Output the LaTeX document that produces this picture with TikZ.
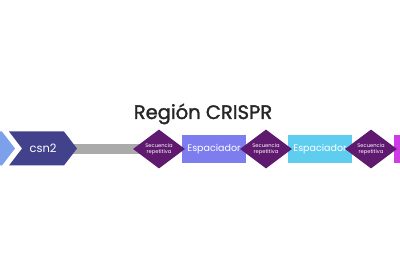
\documentclass[tikz,border=0pt]{standalone}
\usepackage{fontspec}
\setmainfont{Poppins}
\newfontfamily\titlefont{Poppins}[FakeBold=1.6]
\usepackage{xcolor}
\usetikzlibrary{shapes.geometric,shapes.symbols,backgrounds}
\definecolor{chevlight}{RGB}{125,160,235}
\definecolor{chevdark}{RGB}{66,66,140}
\definecolor{linkgray}{RGB}{170,170,170}
\definecolor{reppurple}{RGB}{95,25,110}
\definecolor{spacerA}{RGB}{125,125,240}
\definecolor{spacerB}{RGB}{95,205,240}
\definecolor{spacerC}{RGB}{205,60,230}
\tikzset{
  gene/.style={signal,signal to=east,signal pointer angle=105,fill=#1,draw=none,
    minimum height=34pt,inner sep=0pt,text=white,font=\fontsize{11.5}{11.5}\selectfont},
  spacer/.style={rectangle,fill=#1,draw=none,minimum width=64pt,minimum height=28pt,
    inner sep=0pt,text=white,font=\fontsize{9.5}{9.5}\selectfont},
  repeat/.style={diamond,fill=reppurple,draw=none,minimum width=52pt,minimum height=32pt,
    inner sep=0pt,text=white,align=center,font=\fontsize{5.2}{6.4}\selectfont},
}
\newcommand{\rep}[2]{\node[repeat] (#1) at (#2,149) {Secuencia\\repetitiva};}

\begin{document}
\begin{tikzpicture}[x=1pt,y=-1pt]
\useasboundingbox (0,0) rectangle (400,267);
\clip (0,0) rectangle (400,267);
% ---- title
\node[anchor=base,font=\titlefont\fontsize{19.5}{19.5}\selectfont,text=black!85] (title) at (203,119) {Región CRISPR};

% ---- genes
\node[gene=chevlight,signal from=west,minimum width=60pt] (cas) at (-15,148.5) {};
\node[gene=chevdark,signal from=west,minimum width=68pt] (csn) at (43,148.5) {csn2};

% ---- spacers
\node[spacer=spacerA] (spA) at (214,149) {Espaciador};
\node[spacer=spacerB] (spB) at (320,149) {Espaciador};
\node[spacer=spacerC] (spC) at (426,149) {};

% ---- repeats
\rep{repA}{159}
\rep{repB}{266}
\rep{repC}{371}

% ---- connector
\begin{scope}[on background layer]
\draw[linkgray,line width=10.5pt] ([xshift=-14pt]csn.east |- repA.center) -- (repA.center);
\end{scope}
\end{tikzpicture}
\end{document}
